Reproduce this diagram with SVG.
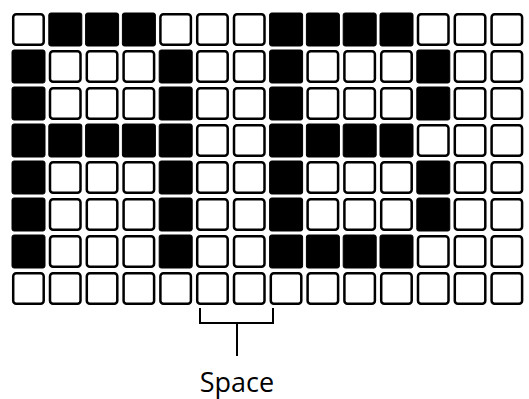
<svg xmlns="http://www.w3.org/2000/svg" width="529" height="399" viewBox="0 0 529 399">
<style>
.w{fill:#fff;stroke:#000;stroke-width:2.5}
.b{fill:#000;stroke:#000;stroke-width:1}
.ln{fill:none;stroke:#000;stroke-width:2}
.t{font-family:"Open Sans","Liberation Sans",sans-serif;font-size:27px;fill:#000}
</style>
<rect width="529" height="399" fill="#fff"/>
<g id="grid">
<g id="row0">
<rect class="w" x="13.2" y="14.2" width="30.5" height="30.5" rx="3"/>
<rect class="b" x="48.8" y="13" width="33" height="33" rx="2"/>
<rect class="b" x="85.6" y="13" width="33" height="33" rx="2"/>
<rect class="b" x="122.4" y="13" width="33" height="33" rx="2"/>
<rect class="w" x="160.4" y="14.2" width="30.5" height="30.5" rx="3"/>
<rect class="w" x="197.2" y="14.2" width="30.5" height="30.5" rx="3"/>
<rect class="w" x="234" y="14.2" width="30.5" height="30.5" rx="3"/>
<rect class="b" x="269.6" y="13" width="33" height="33" rx="2"/>
<rect class="b" x="306.4" y="13" width="33" height="33" rx="2"/>
<rect class="b" x="343.2" y="13" width="33" height="33" rx="2"/>
<rect class="b" x="380" y="13" width="33" height="33" rx="2"/>
<rect class="w" x="418" y="14.2" width="30.5" height="30.5" rx="3"/>
<rect class="w" x="454.8" y="14.2" width="30.5" height="30.5" rx="3"/>
<rect class="w" x="491.6" y="14.2" width="30.5" height="30.5" rx="3"/>
</g>
<g id="row1">
<rect class="b" x="12" y="50" width="33" height="33" rx="2"/>
<rect class="w" x="50" y="51.2" width="30.5" height="30.5" rx="3"/>
<rect class="w" x="86.8" y="51.2" width="30.5" height="30.5" rx="3"/>
<rect class="w" x="123.6" y="51.2" width="30.5" height="30.5" rx="3"/>
<rect class="b" x="159.2" y="50" width="33" height="33" rx="2"/>
<rect class="w" x="197.2" y="51.2" width="30.5" height="30.5" rx="3"/>
<rect class="w" x="234" y="51.2" width="30.5" height="30.5" rx="3"/>
<rect class="b" x="269.6" y="50" width="33" height="33" rx="2"/>
<rect class="w" x="307.6" y="51.2" width="30.5" height="30.5" rx="3"/>
<rect class="w" x="344.4" y="51.2" width="30.5" height="30.5" rx="3"/>
<rect class="w" x="381.2" y="51.2" width="30.5" height="30.5" rx="3"/>
<rect class="b" x="416.8" y="50" width="33" height="33" rx="2"/>
<rect class="w" x="454.8" y="51.2" width="30.5" height="30.5" rx="3"/>
<rect class="w" x="491.6" y="51.2" width="30.5" height="30.5" rx="3"/>
</g>
<g id="row2">
<rect class="b" x="12" y="87" width="33" height="33" rx="2"/>
<rect class="w" x="50" y="88.2" width="30.5" height="30.5" rx="3"/>
<rect class="w" x="86.8" y="88.2" width="30.5" height="30.5" rx="3"/>
<rect class="w" x="123.6" y="88.2" width="30.5" height="30.5" rx="3"/>
<rect class="b" x="159.2" y="87" width="33" height="33" rx="2"/>
<rect class="w" x="197.2" y="88.2" width="30.5" height="30.5" rx="3"/>
<rect class="w" x="234" y="88.2" width="30.5" height="30.5" rx="3"/>
<rect class="b" x="269.6" y="87" width="33" height="33" rx="2"/>
<rect class="w" x="307.6" y="88.2" width="30.5" height="30.5" rx="3"/>
<rect class="w" x="344.4" y="88.2" width="30.5" height="30.5" rx="3"/>
<rect class="w" x="381.2" y="88.2" width="30.5" height="30.5" rx="3"/>
<rect class="b" x="416.8" y="87" width="33" height="33" rx="2"/>
<rect class="w" x="454.8" y="88.2" width="30.5" height="30.5" rx="3"/>
<rect class="w" x="491.6" y="88.2" width="30.5" height="30.5" rx="3"/>
</g>
<g id="row3">
<rect class="b" x="12" y="124" width="33" height="33" rx="2"/>
<rect class="b" x="48.8" y="124" width="33" height="33" rx="2"/>
<rect class="b" x="85.6" y="124" width="33" height="33" rx="2"/>
<rect class="b" x="122.4" y="124" width="33" height="33" rx="2"/>
<rect class="b" x="159.2" y="124" width="33" height="33" rx="2"/>
<rect class="w" x="197.2" y="125.2" width="30.5" height="30.5" rx="3"/>
<rect class="w" x="234" y="125.2" width="30.5" height="30.5" rx="3"/>
<rect class="b" x="269.6" y="124" width="33" height="33" rx="2"/>
<rect class="b" x="306.4" y="124" width="33" height="33" rx="2"/>
<rect class="b" x="343.2" y="124" width="33" height="33" rx="2"/>
<rect class="b" x="380" y="124" width="33" height="33" rx="2"/>
<rect class="w" x="418" y="125.2" width="30.5" height="30.5" rx="3"/>
<rect class="w" x="454.8" y="125.2" width="30.5" height="30.5" rx="3"/>
<rect class="w" x="491.6" y="125.2" width="30.5" height="30.5" rx="3"/>
</g>
<g id="row4">
<rect class="b" x="12" y="161" width="33" height="33" rx="2"/>
<rect class="w" x="50" y="162.2" width="30.5" height="30.5" rx="3"/>
<rect class="w" x="86.8" y="162.2" width="30.5" height="30.5" rx="3"/>
<rect class="w" x="123.6" y="162.2" width="30.5" height="30.5" rx="3"/>
<rect class="b" x="159.2" y="161" width="33" height="33" rx="2"/>
<rect class="w" x="197.2" y="162.2" width="30.5" height="30.5" rx="3"/>
<rect class="w" x="234" y="162.2" width="30.5" height="30.5" rx="3"/>
<rect class="b" x="269.6" y="161" width="33" height="33" rx="2"/>
<rect class="w" x="307.6" y="162.2" width="30.5" height="30.5" rx="3"/>
<rect class="w" x="344.4" y="162.2" width="30.5" height="30.5" rx="3"/>
<rect class="w" x="381.2" y="162.2" width="30.5" height="30.5" rx="3"/>
<rect class="b" x="416.8" y="161" width="33" height="33" rx="2"/>
<rect class="w" x="454.8" y="162.2" width="30.5" height="30.5" rx="3"/>
<rect class="w" x="491.6" y="162.2" width="30.5" height="30.5" rx="3"/>
</g>
<g id="row5">
<rect class="b" x="12" y="198" width="33" height="33" rx="2"/>
<rect class="w" x="50" y="199.2" width="30.5" height="30.5" rx="3"/>
<rect class="w" x="86.8" y="199.2" width="30.5" height="30.5" rx="3"/>
<rect class="w" x="123.6" y="199.2" width="30.5" height="30.5" rx="3"/>
<rect class="b" x="159.2" y="198" width="33" height="33" rx="2"/>
<rect class="w" x="197.2" y="199.2" width="30.5" height="30.5" rx="3"/>
<rect class="w" x="234" y="199.2" width="30.5" height="30.5" rx="3"/>
<rect class="b" x="269.6" y="198" width="33" height="33" rx="2"/>
<rect class="w" x="307.6" y="199.2" width="30.5" height="30.5" rx="3"/>
<rect class="w" x="344.4" y="199.2" width="30.5" height="30.5" rx="3"/>
<rect class="w" x="381.2" y="199.2" width="30.5" height="30.5" rx="3"/>
<rect class="b" x="416.8" y="198" width="33" height="33" rx="2"/>
<rect class="w" x="454.8" y="199.2" width="30.5" height="30.5" rx="3"/>
<rect class="w" x="491.6" y="199.2" width="30.5" height="30.5" rx="3"/>
</g>
<g id="row6">
<rect class="b" x="12" y="235" width="33" height="33" rx="2"/>
<rect class="w" x="50" y="236.2" width="30.5" height="30.5" rx="3"/>
<rect class="w" x="86.8" y="236.2" width="30.5" height="30.5" rx="3"/>
<rect class="w" x="123.6" y="236.2" width="30.5" height="30.5" rx="3"/>
<rect class="b" x="159.2" y="235" width="33" height="33" rx="2"/>
<rect class="w" x="197.2" y="236.2" width="30.5" height="30.5" rx="3"/>
<rect class="w" x="234" y="236.2" width="30.5" height="30.5" rx="3"/>
<rect class="b" x="269.6" y="235" width="33" height="33" rx="2"/>
<rect class="b" x="306.4" y="235" width="33" height="33" rx="2"/>
<rect class="b" x="343.2" y="235" width="33" height="33" rx="2"/>
<rect class="b" x="380" y="235" width="33" height="33" rx="2"/>
<rect class="w" x="418" y="236.2" width="30.5" height="30.5" rx="3"/>
<rect class="w" x="454.8" y="236.2" width="30.5" height="30.5" rx="3"/>
<rect class="w" x="491.6" y="236.2" width="30.5" height="30.5" rx="3"/>
</g>
<g id="row7">
<rect class="w" x="13.2" y="273.2" width="30.5" height="30.5" rx="3"/>
<rect class="w" x="50" y="273.2" width="30.5" height="30.5" rx="3"/>
<rect class="w" x="86.8" y="273.2" width="30.5" height="30.5" rx="3"/>
<rect class="w" x="123.6" y="273.2" width="30.5" height="30.5" rx="3"/>
<rect class="w" x="160.4" y="273.2" width="30.5" height="30.5" rx="3"/>
<rect class="w" x="197.2" y="273.2" width="30.5" height="30.5" rx="3"/>
<rect class="w" x="234" y="273.2" width="30.5" height="30.5" rx="3"/>
<rect class="w" x="270.8" y="273.2" width="30.5" height="30.5" rx="3"/>
<rect class="w" x="307.6" y="273.2" width="30.5" height="30.5" rx="3"/>
<rect class="w" x="344.4" y="273.2" width="30.5" height="30.5" rx="3"/>
<rect class="w" x="381.2" y="273.2" width="30.5" height="30.5" rx="3"/>
<rect class="w" x="418" y="273.2" width="30.5" height="30.5" rx="3"/>
<rect class="w" x="454.8" y="273.2" width="30.5" height="30.5" rx="3"/>
<rect class="w" x="491.6" y="273.2" width="30.5" height="30.5" rx="3"/>
</g>
</g>
<g id="connectors">
<path class="ln" d="M200 308 V323 H273 V308 M237 323 V356"/>
</g>
<g id="label">
<text class="t" x="237" y="392" text-anchor="middle">Space</text>
</g>
</svg>
